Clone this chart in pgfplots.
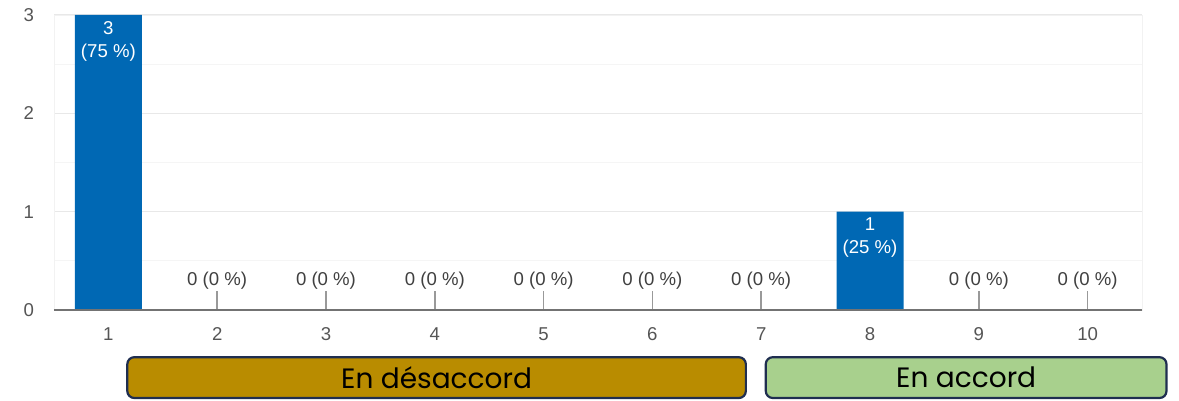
\documentclass[border=0pt]{standalone}
\usepackage{pgfplots}
\pgfplotsset{compat=1.18}
\usepackage{fontspec}
\setmainfont{Liberation Sans}
\newfontfamily\boxfont{Poppins}
\definecolor{barblue}{RGB}{0,104,180}
\definecolor{goldbox}{RGB}{185,140,0}
\definecolor{lgreen}{RGB}{168,208,141}
\definecolor{navy}{RGB}{31,46,80}
\definecolor{ticktext}{RGB}{85,85,85}
\begin{document}
\begin{tikzpicture}
\begin{axis}[
  scale only axis, width=544pt, height=147.5pt,
  xmin=0.5, xmax=10.5, ymin=0, ymax=3,
  xtick={1,...,10}, ytick={0,1,2,3},
  minor y tick num=1,
  ymajorgrids, yminorgrids,
  major grid style={draw=black!9, line width=0.8pt},
  minor grid style={draw=black!4, line width=0.6pt},
  axis line style={draw=black!5},
  major tick length=0pt, minor tick length=0pt,
  /pgf/number format/assume math mode=true,
  tick label style={font=\fontsize{9.3}{11}\selectfont, text=ticktext},
  yticklabel style={xshift=-6.5pt},
  xticklabel style={yshift=-5.2pt},
  clip=false,
]
\addplot[ybar, bar width=33.5pt, bar shift=0pt, fill=barblue, draw=none,
  point meta=explicit symbolic, nodes near coords,
  every node near coord/.style={anchor=north, align=center, text=white,
    font=\fontsize{9.3}{11.5}\selectfont, inner sep=0pt, yshift=-3pt}]
  coordinates {(1,3) [3\\(75~\%)] (8,1) [1\\(25~\%)]};
\addplot[draw=black!40, only marks, mark=none,
  nodes near coords={0 (0~\%)},
  every node near coord/.style={anchor=south, text=black!75,
    font=\fontsize{9.3}{11}\selectfont, inner sep=0pt, yshift=1pt},
  error bars/.cd, y dir=minus, y explicit, error mark=none,
  error bar style={draw=black!40, line width=0.8pt}]
  coordinates {(2,0.19) -= (0,0.19) (3,0.19) -= (0,0.19) (4,0.19) -= (0,0.19)
               (5,0.19) -= (0,0.19) (6,0.19) -= (0,0.19) (7,0.19) -= (0,0.19)
               (9,0.19) -= (0,0.19) (10,0.19) -= (0,0.19)};
\draw[black!55, line width=1pt] (axis cs:0.5,0) -- (axis cs:10.5,0);
\draw[navy, line width=1.1pt, rounded corners=3.5pt, fill=goldbox]
  (axis cs:1.174,-0.48) rectangle (axis cs:6.859,-0.895);
\node[font=\boxfont\fontsize{14}{16}\selectfont, text=black] at (axis cs:4.0165,-0.6875) {En désaccord};
\draw[navy, line width=1.1pt, rounded corners=3.5pt, fill=lgreen]
  (axis cs:7.042,-0.48) rectangle (axis cs:10.725,-0.895);
\node[font=\boxfont\fontsize{14}{16}\selectfont, text=black] at (axis cs:8.8835,-0.6875) {En accord};
\path (axis cs:0.004,-0.925) rectangle (axis cs:10.84,3.1525);
\end{axis}
\end{tikzpicture}
\end{document}
